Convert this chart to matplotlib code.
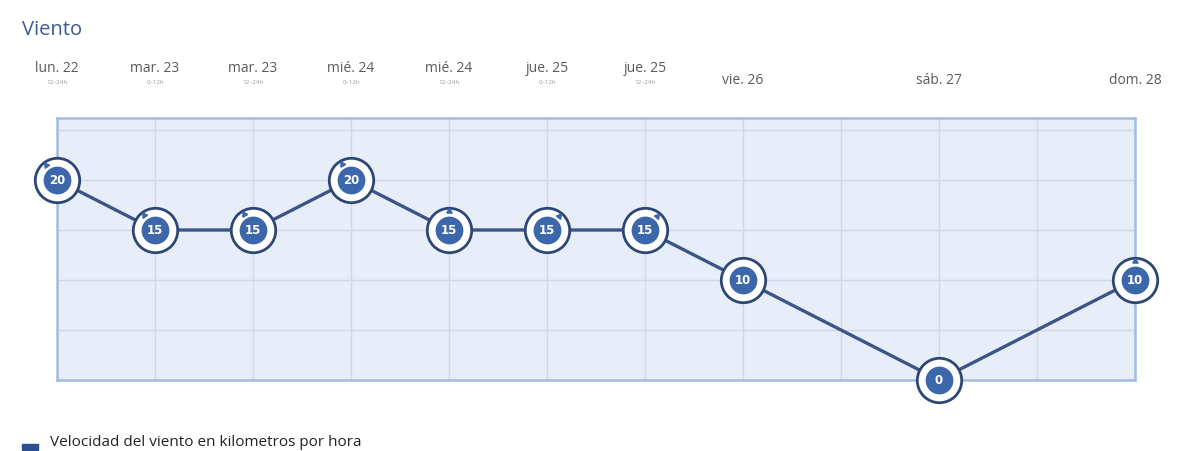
import matplotlib
matplotlib.use("Agg")
import math
import matplotlib.pyplot as plt
import matplotlib.transforms as mtransforms
from matplotlib.patches import Rectangle

# ---- data ----
positions = [0, 1, 2, 3, 4, 5, 6, 7, 9, 11]          # half-day slots
day_labels = ["lun. 22", "mar. 23", "mar. 23", "mié. 24", "mié. 24",
              "jue. 25", "jue. 25", "vie. 26", "sáb. 27", "dom. 28"]
sub_labels = ["12–24h", "0–12h", "12–24h", "0–12h", "12–24h",
              "0–12h", "12–24h", "", "", ""]
wind_kmh = [20, 15, 15, 20, 15, 15, 15, 10, 0, 10]
wind_dir_deg = [125, 125, 120, 120, 90, 50, 50, None, None, 90]  # arrow direction on ring
title = "Viento"
legend_label = "Velocidad del viento en kilometros por hora"

plt.rcParams['font.family'] = ['Open Sans', 'DejaVu Sans']

W, H = 1200, 451
fig = plt.figure(figsize=(W / 100, H / 100), dpi=100)
ax = fig.add_axes([57 / W, 1 - 380 / H, (1135 - 57) / W, (380 - 118) / H])

ax.set_xlim(0, 11)
ax.set_ylim(0, 26.2)
ax.set_facecolor("#e8eef9")
for s in ax.spines.values():
    s.set_color("#a3bce5")
    s.set_linewidth(1.8)

ax.set_xticks(range(0, 12))
ax.set_yticks([0, 5, 10, 15, 20, 25])
ax.grid(True, color="#d2d8e3", linewidth=1.0)
ax.tick_params(left=False, bottom=False, labelleft=False, labelbottom=False)
ax.set_axisbelow(True)

line_col = "#3a5687"
ax.plot(positions, wind_kmh, color=line_col, linewidth=2.4, zorder=3, clip_on=False)

# outer ring
ax.plot(positions, wind_kmh, linestyle="none", marker="o", markersize=32,
        markerfacecolor="white", markeredgecolor="#2e4674", markeredgewidth=2.0,
        zorder=4, clip_on=False)
# inner disc
ax.plot(positions, wind_kmh, linestyle="none", marker="o", markersize=20,
        markerfacecolor="#3d67ab", markeredgecolor="#3d67ab", markeredgewidth=0,
        zorder=5, clip_on=False)

for x, v in zip(positions, wind_kmh):
    ax.text(x, v, str(v), ha="center", va="center", color="white",
            fontsize=8.5, fontweight="bold", zorder=6, clip_on=False,
            family=["DejaVu Sans"])

# direction arrows on the ring
r_pt = 13.6
for x, v, d in zip(positions, wind_kmh, wind_dir_deg):
    if d is None:
        continue
    dx = r_pt * math.cos(math.radians(d)) / 72
    dy = r_pt * math.sin(math.radians(d)) / 72
    tr = ax.transData + mtransforms.ScaledTranslation(dx, dy, fig.dpi_scale_trans)
    ax.plot([x], [v], linestyle="none", marker=(3, 0, d - 90), markersize=4.5,
            color="#3d67ab", transform=tr, zorder=7, clip_on=False)

# top labels
blend = mtransforms.blended_transform_factory(ax.transData, fig.transFigure)
for x, lab, sub in zip(positions, day_labels, sub_labels):
    if sub:
        ax.text(x, 1 - 68 / H, lab, transform=blend, ha="center", va="center",
                fontsize=10, color="#5a5a5a")
        ax.text(x, 1 - 83 / H, sub, transform=blend, ha="center", va="center",
                fontsize=4.5, color="#9a9a9a")
    else:
        ax.text(x, 1 - 80 / H, lab, transform=blend, ha="center", va="center",
                fontsize=10, color="#5a5a5a")

fig.text(22 / W, 1 - 30 / H, title, ha="left", va="center", fontsize=14.5,
         color="#3b5a9a")

# legend (at the bottom edge)
fig.patches.append(Rectangle((22 / W, 1 - 450 / H), 16 / W, 6 / H,
                             transform=fig.transFigure, color="#2c4f94"))
fig.text(50 / W, 1 - 450 / H, legend_label, ha="left", va="bottom",
         fontsize=11, color="#222222")

fig.savefig("out.png", dpi=100)
